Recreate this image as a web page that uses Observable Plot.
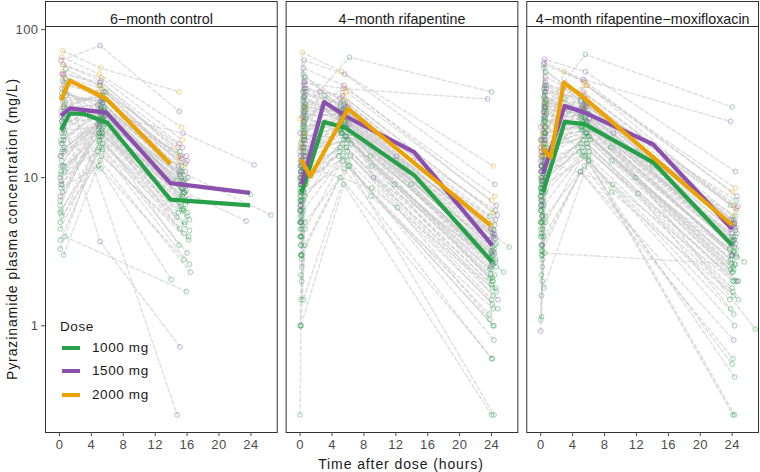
<!DOCTYPE html>
<html>
<head>
<meta charset="utf-8">
<script src="https://cdn.jsdelivr.net/npm/d3@7"></script>
<script src="https://cdn.jsdelivr.net/npm/@observablehq/plot@0.6"></script>
<style>
  body { margin: 0; background: #fff; }
  #wrap { position: relative; width: 760px; height: 472px; font-family: "Liberation Sans", Arial, Helvetica, sans-serif; }
  .ttl { position: absolute; color: #1a1a1a; font-size: 14px; letter-spacing: 0.9px; white-space: nowrap; }
  .leg { position: absolute; color: #1a1a1a; font-size: 13.5px; letter-spacing: 0.6px; white-space: nowrap; line-height: 1; }
  .sw { position: absolute; width: 18px; height: 4px; }
  svg g[aria-label="x-axis tick label"] text, svg g[aria-label="y-axis tick label"] text { letter-spacing: 0.4px; }
</style>
</head>
<body>
<div id="wrap"></div>
<script>
// ---------- data ----------
const panels = ["6−month control", "4−month rifapentine", "4−month rifapentine−moxifloxacin"];
const doses = [1000, 1500, 2000];
const doseLabels = ["1000 mg", "1500 mg", "2000 mg"];
const doseColors = ["#27a04a", "#8b50ad", "#eca200"];
const xTicks = [0, 4, 8, 12, 16, 20, 24];
const yTicks = [1, 10, 100];

// rows: [dose, time, conc, time, conc, ...]
const ctrlMedian = [
  [1000, 0.2,20.9, 1.3,27.2, 3.0,27.0, 6.0,23.5, 13.9,7.1, 23.9,6.5],
  [1500, 0.2,26.2, 1.3,29.4, 5.9,27.5, 13.9,9.2, 23.9,7.9],
  [2000, 0.2,33.3, 1.3,45.2, 5.9,34.0, 13.9,12.4]
];
const rifMedian = [
  [1000, 0.2,7.9, 3.0,23.8, 5.7,21.7, 14.3,10.4, 24.1,2.69],
  [1500, 0.2,9.0, 3.0,32.4, 5.9,25.7, 14.3,14.9, 24.1,3.49],
  [2000, 0.15,13.2, 1.3,10.2, 6.0,29.2, 23.9,4.76]
];
const moxMedian = [
  [1000, 0.3,8.0, 3.0,23.8, 5.5,23.0, 14.1,12.7, 24.0,3.49],
  [1500, 0.3,10.6, 3.0,30.5, 5.8,27.1, 14.1,16.8, 24.0,4.5],
  [2000, 0.3,15.7, 1.26,13.7, 2.9,44.0, 5.8,33.3, 24.0,4.77]
];

const ctrlProfiles = [
  [1000, 0.1,6.5, 5.0,24, 15.3,7.2],
  [1000, 0.5,18, 5.2,30, 15.6,9.5],
  [1500, 0.3,35, 5.1,33, 15.0,11],
  [1000, 0.1,3.3, 5.4,20, 16.0,5.8],
  [2000, 0.4,52, 5.0,42, 14.8,16],
  [1000, 0.6,28, 5.3,26, 15.4,6.1],
  [1500, 0.2,12, 4.9,29, 15.9,8.8],
  [1000, 0.7,40, 5.5,22, 15.1,4.5],
  [1000, 0.3,9.0, 5.0,18, 15.7,5.0],
  [1500, 0.5,58, 5.2,45, 15.2,14],
  [1000, 0.1,4.5, 4.8,15, 16.2,3.8],
  [1000, 0.4,22, 5.6,27, 15.5,7.8],
  [1500, 0.6,30, 5.1,36, 14.9,12],
  [1000, 0.2,14, 5.3,21, 15.8,6.6],
  [2000, 0.3,65, 5.0,50, 15.3,22],
  [1000, 0.8,36, 5.4,32, 15.0,9.0],
  [1500, 0.1,7.5, 5.2,24, 16.1,10],
  [1000, 0.5,25, 4.9,19, 15.6,4.2],
  [1000, 0.3,5.5, 5.1,13, 16.4,2.3],
  [1500, 0.4,45, 5.5,38, 15.4,16],
  [1000, 0.6,16, 5.0,23, 15.2,6.8],
  [1000, 0.2,11, 5.7,28, 15.9,8.2],
  [2000, 0.5,48, 5.3,40, 15.1,13],
  [1000, 0.7,33, 5.2,25, 14.7,5.4],
  [1500, 0.3,20, 4.8,31, 15.8,11],
  [1000, 0.1,3.8, 5.4,17, 16.3,5.2],
  [1000, 0.4,8.0, 5.0,20, 15.5,6.2],
  [1500, 0.2,62, 5.1,78, 15.0,28],
  [1000, 0.6,44, 5.6,34, 15.3,10],
  [1000, 0.5,19, 5.2,11.5, 14.0,2.05],
  [1500, 0.3,26, 5.1,3.7, 15.1,0.72],
  [1000, 0.2,6.0, 5.3,16, 16.0,3.1],
  [2000, 0.4,30, 5.4,36, 15.6,12],
  [1000, 0.8,54, 5.1,42, 15.1,15],
  [1500, 0.1,10, 5.5,26, 15.4,9.5],
  [1000, 0.3,13, 5.0,24, 15.8,7.0],
  [2000, 0.4,72, 5.2,55, 15.0,38],
  [1000, 0.5,3.0, 5.3,14, 16.2,4.0],
  [1500, 0.2,17, 5.1,28, 15.9,14],
  [1000, 0.4,23, 5.6,30, 14.6,9.5],
  [1500, 0.3,40, 5.2,27, 15.5,20, 24.4,12.2],
  [1500, 0.6,15, 5.0,22, 15.7,8.0, 23.4,5.1],
  [1000, 0.2,9.5, 5.4,25, 15.2,11, 26.5,5.6],
  [1000, 0.5,27, 5.2,29, 15.4,9.0, 23.9,7.7],
  [1500, 0.3,50, 14.75,0.25],
  [1000, 0.7,4.0, 15.9,1.7],
  [1000, 0.4,12, 5.0,16, 16.3,2.6],
  [1000, 0.1,5.0, 5.3,19, 15.0,3.5],
  [1500, 0.5,22, 5.4,34, 16.0,13],
  [1000, 0.6,31, 5.8,38, 15.3,12],
  [1000, 0.2,8.5, 4.9,12, 15.6,2.8],
  [1000, 0.3,15, 5.2,26, 15.3,8.5],
  [1000, 0.5,21, 5.0,22, 15.6,6.0],
  [1500, 0.2,28, 5.4,32, 15.1,10.5],
  [1000, 0.6,12, 5.1,19, 16.0,5.5],
  [1000, 0.4,17, 5.5,24, 15.4,7.5],
  [1500, 0.7,38, 5.3,30, 15.8,12.5],
  [1000, 0.1,7.0, 4.9,21, 15.2,6.4],
  [1000, 0.3,24, 5.2,28, 15.5,8.0],
  [2000, 0.5,42, 5.0,38, 15.0,14],
  [1000, 0.2,10.5, 5.6,23, 16.1,6.9],
  [1500, 0.4,33, 5.2,35, 15.3,13.5],
  [1000, 0.6,20, 5.3,20, 14.9,5.8],
  [1000, 0.1,5.8, 5.0,17.5, 15.7,4.8],
  [1500, 0.3,24, 5.4,25, 15.6,9.2],
  [1000, 0.5,30, 5.1,31, 15.2,8.6],
  [1000, 0.8,47, 5.5,36, 15.4,11],
  [1500, 0.2,9.0, 5.0,20, 16.2,7.2],
  [1000, 0.4,15.5, 5.7,26, 15.0,7.4],
  [1000, 0.6,26, 5.2,27, 15.8,9.8],
  [1500, 0.1,14, 4.8,23, 15.5,8.4],
  [1000, 0.3,37, 5.3,33, 15.1,10.2],
  [1000, 0.7,11, 5.4,15.5, 16.3,4.4],
  [1500, 0.5,50, 5.1,44, 15.0,17],
  [1000, 0.2,18, 5.6,29, 15.7,7.9],
  [2000, 0.4,58, 5.3,47, 15.4,18]
];

const rifProfiles = [
  [1000, 0.1,5.0, 0.5,14, 5.3,20, 24.0,2.4],
  [1000, 0.0,8.0, 0.6,22, 5.6,24, 24.3,3.0],
  [1500, 0.1,10, 0.5,30, 5.1,28, 23.8,3.8],
  [1000, 0.2,2.5, 0.7,9.0, 5.8,16, 24.2,1.6],
  [2000, 0.1,14, 0.4,12, 6.0,32, 24.1,5.0],
  [1000, 0.0,6.5, 0.5,35, 5.4,26, 24.5,2.8],
  [1500, 0.2,12, 0.6,45, 5.0,34, 23.9,4.5],
  [1000, 0.1,4.0, 0.4,7.0, 5.5,18, 24.0,1.9],
  [1000, 0.0,9.5, 0.6,28, 5.2,22, 24.4,3.5],
  [1500, 0.1,7.0, 0.5,20, 5.7,30, 24.2,3.2],
  [1000, 0.2,3.0, 0.5,11, 4.8,14, 23.7,1.2],
  [1000, 0.1,11, 0.7,40, 5.3,28, 24.1,4.2],
  [1500, 0.0,15, 0.4,55, 5.5,42, 24.6,6.5],
  [1000, 0.1,1.5, 0.6,5.0, 6.2,12, 24.3,0.8],
  [2000, 0.2,18, 0.5,25, 5.8,38, 24.0,7.0],
  [1000, 0.1,7.5, 0.5,18, 5.0,21, 23.9,2.2],
  [1000, 0.0,5.5, 0.6,16, 5.6,19, 24.2,2.0],
  [1500, 0.1,9.0, 0.7,38, 5.2,26, 24.5,3.9],
  [1000, 0.2,2.0, 0.4,6.0, 5.9,15, 24.1,1.4],
  [1000, 0.1,13, 0.6,48, 5.4,33, 23.8,5.5],
  [1500, 0.0,20, 0.5,62, 5.6,50, 24.4,9.0],
  [1000, 0.1,6.0, 0.5,24, 2.8,30, 5.7,23, 24.0,2.6],
  [1000, 0.2,8.5, 0.7,14, 3.1,36, 5.3,25, 24.3,3.3],
  [1500, 0.1,11, 0.4,16, 2.5,38, 5.1,31, 24.2,4.0],
  [1000, 0.0,4.5, 0.6,12, 6.4,17, 9.0,12, 24.6,2.5],
  [1000, 0.1,7.0, 0.5,19, 5.8,22, 8.8,14, 24.0,3.1],
  [1500, 0.2,9.5, 0.6,32, 5.5,27, 9.2,10, 23.9,2.9],
  [1000, 0.1,3.5, 0.5,8.0, 6.0,13, 8.9,7.5, 24.2,1.3],
  [1000, 0.0,10, 0.7,26, 5.2,20, 12.0,13, 24.4,4.8],
  [1000, 0.1,5.0, 0.4,15, 5.9,18, 11.8,9.0, 24.1,2.1],
  [1500, 0.2,13, 0.6,42, 5.4,29, 12.1,14, 24.5,5.2],
  [1000, 0.1,6.0, 0.5,10, 6.3,14, 12.2,6.3, 23.8,1.1],
  [1000, 0.1,1.0, 0.6,3.5, 5.5,11.5, 24.0,0.6],
  [1000, 0.0,0.25, 0.1,1.0, 5.5,9.0, 24.0,0.25],
  [1000, 0.2,4.0, 0.5,20, 5.0,15, 24.3,0.25],
  [1500, 0.1,16, 0.5,44, 5.4,40, 23.5,34],
  [1000, 0.2,12, 0.6,30, 6.2,65, 24.0,38],
  [2000, 0.0,25, 0.3,70, 5.2,52, 24.2,12],
  [1000, 0.1,9.0, 0.5,35, 5.1,24, 13.9,9.0, 24.2,2.7],
  [1500, 0.0,12, 0.6,18, 5.7,28, 14.2,13, 24.4,4.1],
  [1000, 0.1,4.0, 0.5,12, 9.0,8.5, 24.1,1.8],
  [2000, 0.1,10, 0.7,9.0, 5.5,25, 24.0,4.6],
  [1000, 0.2,2.8, 0.6,4.5, 5.3,13, 24.3,1.0],
  [1000, 0.1,17, 0.4,50, 5.0,30, 24.5,6.0],
  [1500, 0.0,6.0, 0.5,14, 6.1,23, 24.0,2.7],
  [1000, 0.1,3.0, 0.7,25, 5.6,21, 25.5,2.3],
  [1000, 0.0,7.0, 0.5,30, 5.4,27, 26.2,3.4],
  [1500, 0.2,5.0, 0.6,9.0, 5.8,19, 24.8,1.5],
  [1000, 0.1,2.2, 0.4,1.5, 6.0,12, 24.2,1.0],
  [1000, 0.0,1.0, 0.2,3.0, 5.0,10, 24.1,0.6],
  [1000, 0.1,6.5, 0.5,19, 5.4,22, 24.2,2.6],
  [1000, 0.0,5.0, 0.6,13, 5.7,19, 24.4,2.2],
  [1500, 0.2,9.0, 0.4,26, 5.2,27, 23.9,3.6],
  [1000, 0.1,8.0, 0.7,31, 5.9,25, 24.1,3.0],
  [1000, 0.0,4.0, 0.5,10, 5.3,17, 24.5,1.8],
  [1500, 0.1,11, 0.6,36, 5.6,32, 24.3,4.4],
  [1000, 0.2,7.0, 0.4,16, 5.1,20, 23.8,2.4],
  [1000, 0.1,10, 0.5,27, 6.0,26, 24.6,3.6],
  [2000, 0.0,13, 0.6,20, 5.5,35, 24.2,5.8],
  [1000, 0.1,3.5, 0.7,9.5, 5.8,16, 24.0,1.5],
  [1500, 0.2,8.0, 0.5,24, 5.0,24, 24.4,3.1],
  [1000, 0.0,6.0, 0.6,21, 5.4,23, 23.7,2.9],
  [1000, 0.1,9.0, 0.4,33, 5.7,29, 24.3,3.9],
  [1500, 0.1,14, 0.5,40, 5.3,36, 24.7,5.6],
  [1000, 0.2,5.5, 0.7,15, 6.1,18, 24.1,2.0],
  [1000, 0.0,7.5, 0.5,23, 5.2,21, 24.5,2.7],
  [1500, 0.1,6.5, 0.6,17, 5.8,22, 23.9,2.5],
  [1000, 0.1,12, 0.4,38, 5.5,31, 24.2,4.5],
  [1000, 0.2,4.5, 0.5,11, 5.0,16, 24.6,1.7],
  [1000, 0.0,8.5, 0.7,29, 5.6,24, 24.0,3.2],
  [1500, 0.1,10.5, 0.5,28, 5.9,30, 24.3,4.2],
  [1000, 0.1,3.0, 0.6,7.5, 5.4,14, 24.8,1.3],
  [1000, 0.2,11, 0.4,22, 5.1,26, 24.1,3.4],
  [2000, 0.1,16, 0.6,30, 5.7,40, 24.4,7.5],
  [1000, 0.0,5.0, 0.5,18, 6.3,20, 23.8,2.1]
];

const moxProfiles = [
  [1000, 0.1,5.0, 0.5,15, 5.3,21, 24.0,2.8],
  [1000, 0.0,8.5, 0.6,24, 5.6,25, 24.3,3.4],
  [1500, 0.1,11, 0.5,32, 5.1,30, 23.8,4.5],
  [1000, 0.2,2.5, 0.7,10, 5.8,17, 24.2,2.0],
  [2000, 0.1,16, 0.4,14, 5.9,34, 24.1,5.5],
  [1000, 0.0,7.0, 0.5,38, 5.4,28, 24.5,3.3],
  [1500, 0.2,13, 0.6,48, 5.0,36, 23.9,5.2],
  [1000, 0.1,4.0, 0.4,8.0, 5.5,19, 24.0,2.3],
  [1000, 0.0,10, 0.6,30, 5.2,24, 24.4,4.0],
  [1500, 0.1,8.0, 0.5,22, 5.7,32, 24.2,3.8],
  [1000, 0.2,3.0, 0.5,12, 4.8,15, 23.7,1.5],
  [1000, 0.1,12, 0.7,42, 5.3,30, 24.1,5.0],
  [1500, 0.0,16, 0.4,58, 5.5,45, 24.6,7.5],
  [1000, 0.1,1.6, 0.6,5.5, 6.0,13, 24.3,1.0],
  [2000, 0.2,20, 0.5,28, 5.8,42, 24.0,8.0],
  [1000, 0.1,8.0, 0.5,20, 5.0,22, 23.9,2.6],
  [1000, 0.0,6.0, 0.6,17, 5.6,20, 24.2,2.4],
  [1500, 0.1,9.5, 0.7,40, 5.2,28, 24.5,4.6],
  [1000, 0.2,2.0, 0.4,6.5, 5.9,16, 24.1,1.7],
  [1000, 0.1,14, 0.6,52, 5.4,35, 23.8,6.5],
  [1500, 0.0,22, 0.5,63, 5.6,52, 24.4,11],
  [1000, 0.1,6.0, 0.5,25, 3.0,34, 5.7,24, 24.0,3.0],
  [1000, 0.2,9.0, 0.7,15, 3.5,28, 5.3,26, 24.3,3.8],
  [1500, 0.1,12, 0.4,18, 2.8,40, 5.1,33, 24.2,4.8],
  [2000, 0.1,18, 0.5,16, 2.9,52, 5.4,44, 24.5,6.0],
  [1000, 0.0,4.5, 0.6,13, 6.2,18, 8.9,13, 24.6,2.9],
  [1000, 0.1,7.5, 0.5,20, 5.8,23, 8.8,16, 24.0,3.6],
  [1500, 0.2,10, 0.6,34, 5.5,29, 9.1,20, 23.9,3.5],
  [1000, 0.1,3.5, 0.5,9.0, 6.0,14, 8.9,8.0, 24.2,1.6],
  [1000, 0.0,11, 0.7,28, 5.2,22, 12.0,15, 24.4,5.5],
  [1000, 0.1,5.5, 0.4,16, 5.9,19, 11.9,10, 24.1,2.5],
  [1500, 0.2,14, 0.6,44, 5.4,31, 12.1,19, 24.5,6.2],
  [1000, 0.1,6.5, 0.5,11, 6.1,15, 12.2,7.8, 23.8,1.3],
  [1000, 0.1,1.15, 0.4,4.0, 5.5,12, 24.0,0.55],
  [1500, 0.0,0.92, 0.2,3.5, 5.0,11, 24.2,0.8],
  [1000, 0.5,3.1, 24.3,2.6],
  [1000, 0.1,8.0, 0.5,26, 5.6,14, 24.1,0.25],
  [1000, 0.2,5.0, 0.6,22, 5.2,16, 24.3,0.25],
  [1000, 0.1,12, 0.5,30, 5.6,68, 24.0,30],
  [1500, 0.0,18, 0.4,60, 5.3,46, 23.8,24],
  [1000, 0.1,9.0, 0.5,36, 5.1,25, 14.0,12, 24.2,3.2],
  [1500, 0.0,13, 0.6,20, 5.7,30, 13.8,17, 24.4,4.4],
  [1000, 0.1,4.2, 0.5,13, 9.0,9.0, 24.1,2.0],
  [2000, 0.1,15, 0.7,12, 5.5,30, 24.0,4.8],
  [1000, 0.2,2.8, 0.6,5.0, 5.3,14, 24.3,0.45],
  [1000, 0.1,18, 0.4,55, 5.0,33, 24.5,7.0],
  [1500, 0.0,6.5, 0.5,15, 6.1,25, 24.0,3.0],
  [1000, 0.1,3.2, 0.7,27, 5.6,22, 25.5,2.7],
  [1000, 0.0,7.5, 0.5,32, 5.4,29, 26.9,0.95],
  [1500, 0.2,5.5, 0.6,10, 5.8,20, 24.8,2.0],
  [1000, 0.1,2.2, 0.4,1.8, 6.0,13, 24.2,1.2],
  [1000, 0.0,1.1, 0.2,3.2, 5.0,11, 24.1,0.6],
  [1000, 0.1,6.5, 0.5,20, 5.4,23, 24.2,3.1],
  [1000, 0.0,5.0, 0.6,14, 5.7,20, 24.4,2.6],
  [1500, 0.2,9.5, 0.4,28, 5.2,29, 23.9,4.2],
  [1000, 0.1,8.5, 0.7,33, 5.9,27, 24.1,3.7],
  [1000, 0.0,4.0, 0.5,11, 5.3,18, 24.5,2.0],
  [1500, 0.1,12, 0.6,38, 5.6,34, 24.3,5.0],
  [1000, 0.2,7.0, 0.4,17, 5.1,21, 23.8,2.8],
  [1000, 0.1,10, 0.5,29, 6.0,27, 24.6,4.2],
  [2000, 0.0,14, 0.6,22, 5.5,37, 24.2,6.5],
  [1000, 0.1,3.5, 0.7,10, 5.8,17, 24.0,1.8],
  [1500, 0.2,8.5, 0.5,26, 5.0,26, 24.4,3.6],
  [1000, 0.0,6.0, 0.6,22, 5.4,24, 23.7,3.3],
  [1000, 0.1,9.5, 0.4,35, 5.7,31, 24.3,4.6],
  [1500, 0.1,15, 0.5,42, 5.3,38, 24.7,6.4],
  [1000, 0.2,5.5, 0.7,16, 6.1,19, 24.1,2.3],
  [1000, 0.0,7.5, 0.5,24, 5.2,22, 24.5,3.0],
  [1500, 0.1,7.0, 0.6,18, 5.8,24, 23.9,3.0],
  [1000, 0.1,12, 0.4,40, 5.5,33, 24.2,5.2],
  [1000, 0.2,4.5, 0.5,12, 5.0,17, 24.6,2.0],
  [1000, 0.0,8.5, 0.7,31, 5.6,26, 24.0,3.8],
  [1500, 0.1,11, 0.5,30, 5.9,32, 24.3,4.9],
  [1000, 0.1,3.0, 0.6,8.0, 5.4,15, 24.8,1.5],
  [1000, 0.2,11, 0.4,24, 5.1,27, 24.1,4.0],
  [2000, 0.1,17, 0.6,32, 5.7,42, 24.4,8.5],
  [1000, 0.0,5.0, 0.5,19, 6.3,21, 23.8,2.4]
];

// ---------- build tables ----------
function expand(panel, rows, prefix) {
  const out = [];
  rows.forEach((r, i) => {
    for (let k = 1; k < r.length; k += 2) {
      out.push({panel, id: prefix + i, dose: r[0], t: r[k], c: r[k + 1]});
    }
  });
  return out;
}
const points = [
  ...expand(panels[0], ctrlProfiles, "c"),
  ...expand(panels[1], rifProfiles, "r"),
  ...expand(panels[2], moxProfiles, "m")
];
const medians = [
  ...expand(panels[0], ctrlMedian, "cm"),
  ...expand(panels[1], rifMedian, "rm"),
  ...expand(panels[2], moxMedian, "mm")
];

const H = 472, MT = 26, MB = 40;
const chart = Plot.plot({
  width: 760,
  height: H,
  marginTop: MT,
  marginBottom: MB,
  marginLeft: 45,
  marginRight: 2,
  style: {fontFamily: '"Liberation Sans", Arial, Helvetica, sans-serif', fontSize: "13px", color: "#4d4d4d", background: "#fff"},
  fx: {domain: panels, paddingInner: 0.037, paddingOuter: 0, round: false, axis: null, label: null},
  x: {domain: [-1.75, 27.3], label: null},
  y: {type: "log", domain: [0.19, 105], label: null},
  color: {domain: doses, range: doseColors},
  marks: [
    Plot.line(points, {fx: "panel", x: "t", y: "c", z: "id", stroke: "#c8c8c8", strokeWidth: 1.4, strokeOpacity: 0.6, strokeDasharray: "4,2.5"}),
    Plot.dot(points, {fx: "panel", x: "t", y: "c", stroke: "dose", r: 2.4, strokeWidth: 0.8, strokeOpacity: 0.55, fill: "none"}),
    Plot.line(medians, {fx: "panel", x: "t", y: "c", z: "id", stroke: "dose", strokeWidth: 4.2, strokeLinejoin: "round", strokeLinecap: "butt"}),
    Plot.frame({stroke: "#333", strokeWidth: 1}),
    Plot.frame({stroke: "#333", strokeWidth: 1, fill: "#fff", insetTop: -25, insetBottom: H - MT - MB}),
    Plot.text(panels, {fx: d => d, text: d => d, frameAnchor: "top", dy: -12.5, fontSize: 14.3, fill: "#1a1a1a"}),
    Plot.axisX(xTicks, {tickSize: 4, tickPadding: 3, label: null}),
    Plot.axisY(yTicks, {tickSize: 4, tickPadding: 3, tickFormat: d => String(d), label: null})
  ]
});

const wrap = document.getElementById("wrap");
wrap.appendChild(chart);

// axis titles
const xt = document.createElement("div");
xt.className = "ttl";
xt.textContent = "Time after dose (hours)";
xt.style.left = "401px"; xt.style.top = "464px";
xt.style.transform = "translate(-50%, -50%)";
wrap.appendChild(xt);

const yt = document.createElement("div");
yt.className = "ttl";
yt.textContent = "Pyrazinamide plasma concentration (mg/L)";
yt.style.left = "12px"; yt.style.top = "229px";
yt.style.transform = "translate(-50%, -50%) rotate(-90deg)";
wrap.appendChild(yt);

// legend
const lt = document.createElement("div");
lt.className = "leg";
lt.textContent = "Dose";
lt.style.left = "60px"; lt.style.top = "320px";
wrap.appendChild(lt);
doses.forEach((d, i) => {
  const cy = 348 + i * 23.3;
  const sw = document.createElement("div");
  sw.className = "sw";
  sw.style.left = "62px"; sw.style.top = (cy - 2) + "px";
  sw.style.background = doseColors[i];
  wrap.appendChild(sw);
  const lb = document.createElement("div");
  lb.className = "leg";
  lb.textContent = doseLabels[i];
  lb.style.left = "92px"; lb.style.top = (cy - 7) + "px";
  wrap.appendChild(lb);
});
</script>
</body>
</html>
